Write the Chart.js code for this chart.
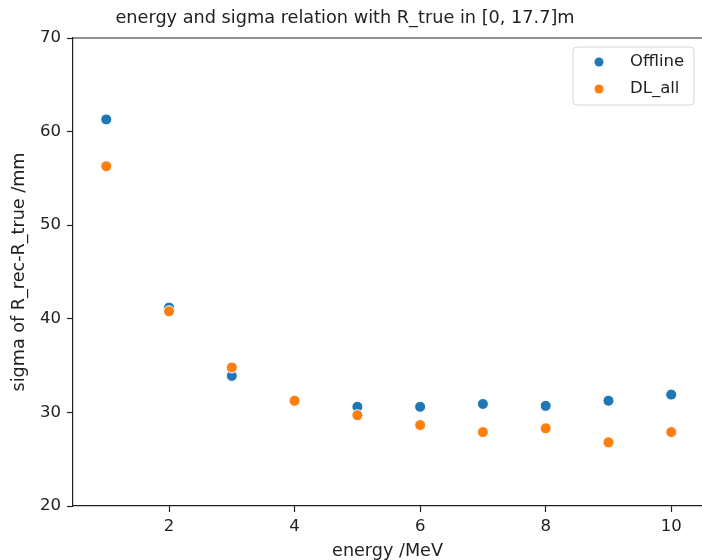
<!DOCTYPE html>
<html>
<head>
<meta charset="utf-8">
<script src="https://cdn.jsdelivr.net/npm/chart.js@4.4.0/dist/chart.umd.min.js"></script>
<style>
  html, body { margin: 0; padding: 0; background: #fff; }
  #wrap { width: 702px; height: 560px; }
</style>
</head>
<body>
<div id="wrap"><canvas id="sigmaChart" width="702" height="560"></canvas></div>
<script>
// energy in MeV
const energies = [1, 2, 3, 4, 5, 6, 7, 8, 9, 10];
// sigma of R_rec - R_true in mm
const offlineSigma = [61.3, 41.2, 33.9, 31.2, 30.6, 30.6, 30.9, 30.7, 31.25, 31.9];
const dlAllSigma = [56.3, 40.8, 34.8, 31.25, 29.7, 28.65, 27.9, 28.3, 26.8, 27.9];
const xTicks = [2, 4, 6, 8, 10];
const yTicks = [20, 30, 40, 50, 60, 70];

const seriesNames = ['Offline', 'DL_all'];
const seriesColors = ['#1f77b4', '#ff7f0e'];
const titleText = 'energy and sigma relation with R_true in [0, 17.7]m';
const fontFamily = '"DejaVu Sans", sans-serif';

// top spine, title and the legend box (matplotlib style)
const decorations = {
  id: 'decorations',
  afterDraw(chart) {
    const ctx = chart.ctx;
    const area = chart.chartArea;
    ctx.save();
    ctx.strokeStyle = '#222';
    ctx.lineWidth = 1.2;
    ctx.beginPath();
    ctx.moveTo(area.left, area.top);
    ctx.lineTo(area.right, area.top);
    ctx.stroke();

    ctx.fillStyle = '#222';
    ctx.font = '17.7px ' + fontFamily;
    ctx.textAlign = 'center';
    ctx.textBaseline = 'middle';
    ctx.fillText(titleText, 345, 18);

    // legend
    const bx = 573, by = 47, bw = 121, bh = 58;
    ctx.strokeStyle = '#d6d6d6';
    ctx.lineWidth = 1;
    ctx.fillStyle = 'rgba(255,255,255,0.8)';
    ctx.beginPath();
    ctx.roundRect(bx, by, bw, bh, 4);
    ctx.fill();
    ctx.stroke();

    ctx.font = '16.5px ' + fontFamily;
    ctx.textAlign = 'left';
    seriesNames.forEach((name, i) => {
      const y = 62 + i * 27;
      ctx.fillStyle = seriesColors[i];
      ctx.beginPath();
      ctx.arc(599, y, 4.5, 0, Math.PI * 2);
      ctx.fill();
      ctx.fillStyle = '#222';
      ctx.fillText(name, 630, y);
    });
    ctx.restore();
  }
};

const ctx = document.getElementById('sigmaChart').getContext('2d');

new Chart(ctx, {
  type: 'scatter',
  data: {
    datasets: [
      {
        label: seriesNames[0],
        data: energies.map((e, i) => ({ x: e, y: offlineSigma[i] })),
        backgroundColor: seriesColors[0],
        borderColor: '#fff',
        borderWidth: 1,
        pointRadius: 5.5,
        order: 1
      },
      {
        label: seriesNames[1],
        data: energies.map((e, i) => ({ x: e, y: dlAllSigma[i] })),
        backgroundColor: seriesColors[1],
        borderColor: '#fff',
        borderWidth: 1,
        pointRadius: 5.5,
        order: 0
      }
    ]
  },
  options: {
    responsive: false,
    animation: false,
    layout: { autoPadding: false, padding: { left: 0, right: 0, top: 38, bottom: 0 } },
    plugins: {
      legend: { display: false },
      tooltip: { enabled: false },
      title: { display: false }
    },
    scales: {
      x: {
        type: 'linear',
        min: 0.47,
        max: 10.49,
        afterFit(scale) {
          scale.height = 54;
          scale.paddingRight = 0;
          scale.paddingLeft = 0;
        },
        afterBuildTicks(scale) { scale.ticks = xTicks.map(v => ({ value: v })); },
        grid: { drawOnChartArea: false, color: '#222', tickLength: 6, tickWidth: 1.2 },
        border: { display: true, color: '#222', width: 1.2 },
        ticks: { color: '#222', font: { family: fontFamily, size: 16.5 }, padding: 5, maxRotation: 0 },
        title: {
          display: true,
          text: 'energy /MeV',
          color: '#222',
          font: { family: fontFamily, size: 17.6, lineHeight: 1 },
          padding: { top: 0, bottom: 0 }
        }
      },
      y: {
        min: 20,
        max: 70,
        afterFit(scale) { scale.width = 73; },
        afterBuildTicks(scale) { scale.ticks = yTicks.map(v => ({ value: v })); },
        grid: { drawOnChartArea: false, color: '#222', tickLength: 6, tickWidth: 1.2 },
        border: { display: true, color: '#222', width: 1.2 },
        ticks: { color: '#222', font: { family: fontFamily, size: 16.5 }, padding: 6 },
        title: {
          display: true,
          text: 'sigma of R_rec-R_true /mm',
          color: '#222',
          font: { family: fontFamily, size: 17.6, lineHeight: 1 },
          padding: { top: 11, bottom: 0 }
        }
      }
    }
  },
  plugins: [decorations]
});
</script>
</body>
</html>
